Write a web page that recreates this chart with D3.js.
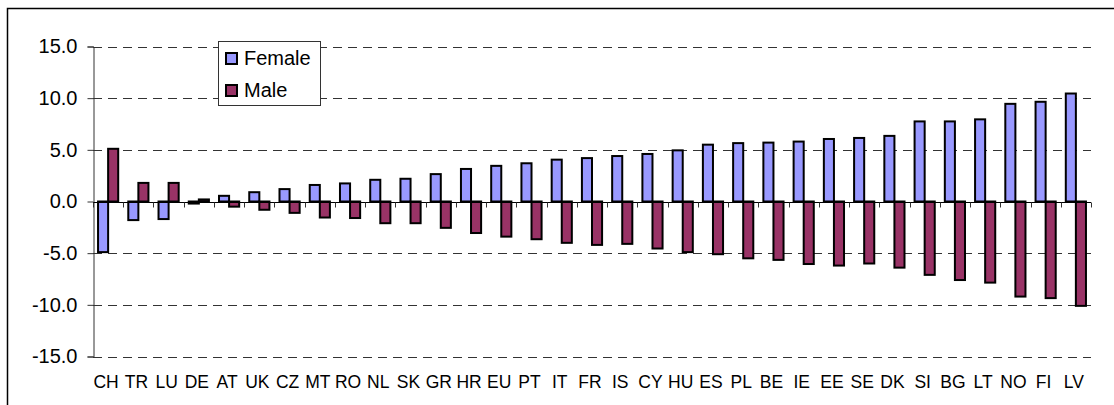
<!DOCTYPE html>
<html>
<head>
<meta charset="utf-8">
<script src="https://cdn.jsdelivr.net/npm/d3@7"></script>
<style>
  body { margin: 0; background: #fff; }
  text { font-family: "Liberation Sans", Arial, sans-serif; fill: #000; }
</style>
</head>
<body>
<script>

const countries = ["CH", "TR", "LU", "DE", "AT", "UK", "CZ", "MT", "RO", "NL", "SK", "GR", "HR", "EU", "PT",
    "IT", "FR", "IS", "CY", "HU", "ES", "PL", "BE", "IE", "EE", "SE", "DK", "SI", "BG", "LT", "NO", "FI", "LV"];
const female = [-4.9, -1.8, -1.7, -0.2, 0.55, 0.9, 1.2, 1.6, 1.75, 2.1, 2.2, 2.65, 3.15, 3.45, 3.7,
    4.05, 4.2, 4.4, 4.6, 4.95, 5.5, 5.65, 5.7, 5.8, 6.05, 6.15, 6.35, 7.75, 7.75, 7.95, 9.45, 9.65, 10.45];
const male = [5.1, 1.8, 1.8, 0.2, -0.5, -0.8, -1.1, -1.55, -1.6, -2.1, -2.1, -2.55, -3.05, -3.4, -3.65,
    -4.0, -4.2, -4.1, -4.55, -4.9, -5.1, -5.5, -5.65, -6.05, -6.2, -6.0, -6.4, -7.1, -7.6, -7.85, -9.2, -9.35, -10.1];
const seriesNames = ["Female", "Male"];
const seriesColors = ["#9999FF", "#993366"];
const yTicks = [-15, -10, -5, 0, 5, 10, 15];

const W = 1114, H = 405;
const plotLeft = 93, plotRight = 1091, plotTop = 46.5, plotBottom = 356.5;

const svg = d3.select('body')
    .append('svg')
    .attr("width", W)
    .attr("height", H);

// outer frame (cropped at right and bottom)
svg.append('rect')
    .attr('x', 7.5).attr('y', 8.5)
    .attr('width', 1130).attr('height', 420)
    .attr('fill', 'none')
    .attr('stroke', '#000')
    .attr('stroke-width', 1.5);

const x = d3.scaleBand()
    .domain(countries)
    .range([plotLeft, plotRight])
    .paddingInner(1 / 3)
    .paddingOuter(1 / 6);

const xs = d3.scaleBand()
    .domain(seriesNames)
    .range([0, x.bandwidth()]);

const y = d3.scaleLinear()
    .domain([-15, 15])
    .range([plotBottom, plotTop]);

// dashed gridlines
svg.append('g').selectAll('line')
    .data(yTicks.filter(d => d !== 0))
    .enter().append('line')
    .attr('x1', plotLeft).attr('x2', plotRight)
    .attr('y1', d => Math.round(y(d)) + 0.5)
    .attr('y2', d => Math.round(y(d)) + 0.5)
    .attr('stroke', '#333')
    .attr('stroke-dasharray', '9,6');

// y axis
const yAxis = svg.append('g')
    .attr('transform', `translate(${plotLeft + 0.5},0)`)
    .call(d3.axisLeft(y).tickValues(yTicks).tickSize(6).tickPadding(10)
        .tickFormat(d => d.toFixed(1)));
yAxis.select('.domain').attr('stroke', '#333');
yAxis.selectAll('.tick line').attr('stroke', '#333');
yAxis.selectAll('.tick text')
    .attr('font-size', '20px')
    .attr('font-family', '"Liberation Sans", Arial, sans-serif');

// bars
const rows = countries.map((c, i) => ({ c: c, vals: [female[i], male[i]] }));
const groups = svg.append('g').selectAll('g')
    .data(rows)
    .enter().append('g')
    .attr('transform', d => `translate(${x(d.c)},0)`);

groups.selectAll('rect')
    .data(d => d.vals.map((v, k) => ({ s: seriesNames[k], v: v, k: k })))
    .enter().append('rect')
    .attr('x', d => xs(d.s))
    .attr('width', xs.bandwidth())
    .attr('y', d => y(Math.max(0, d.v)))
    .attr('height', d => Math.abs(y(d.v) - y(0)))
    .attr('fill', d => seriesColors[d.k])
    .attr('stroke', '#000')
    .attr('stroke-width', 2);

// zero axis with category ticks
const zeroY = Math.round(y(0)) + 0.5;
svg.append('line')
    .attr('x1', plotLeft).attr('x2', plotRight)
    .attr('y1', zeroY).attr('y2', zeroY)
    .attr('stroke', '#000');
const bounds = countries.map(c => x(c) - x.step() * x.paddingInner() / 2).concat([plotRight]);
svg.append('g').selectAll('line')
    .data(bounds)
    .enter().append('line')
    .attr('x1', d => Math.round(d) + 0.5).attr('x2', d => Math.round(d) + 0.5)
    .attr('y1', zeroY).attr('y2', zeroY + 5)
    .attr('stroke', '#333');

// category labels
svg.append('g').selectAll('text')
    .data(countries)
    .enter().append('text')
    .attr('x', d => x(d) + x.bandwidth() / 2 - 2)
    .attr('y', 388)
    .attr('text-anchor', 'middle')
    .attr('font-size', '17.5px')
    .style('font-family', '"Liberation Sans Narrow", "Liberation Sans", Arial, sans-serif')
    .text(d => d);

// legend
const legend = svg.append('g').attr('transform', 'translate(218.5,41.5)');
legend.append('rect')
    .attr('width', 102).attr('height', 64)
    .attr('fill', '#fff')
    .attr('stroke', '#333');
const items = legend.selectAll('.item')
    .data(seriesNames)
    .enter().append('g')
    .attr('class', 'item')
    .attr('transform', (d, i) => `translate(7.5,${11.5 + i * 32})`);
items.append('rect')
    .attr('width', 11).attr('height', 11)
    .attr('fill', (d, i) => seriesColors[i])
    .attr('stroke', '#000')
    .attr('stroke-width', 2);
items.append('text')
    .attr('x', 18).attr('y', 11.5)
    .attr('font-size', '20px')
    .text(d => d);

</script>
</body>
</html>
